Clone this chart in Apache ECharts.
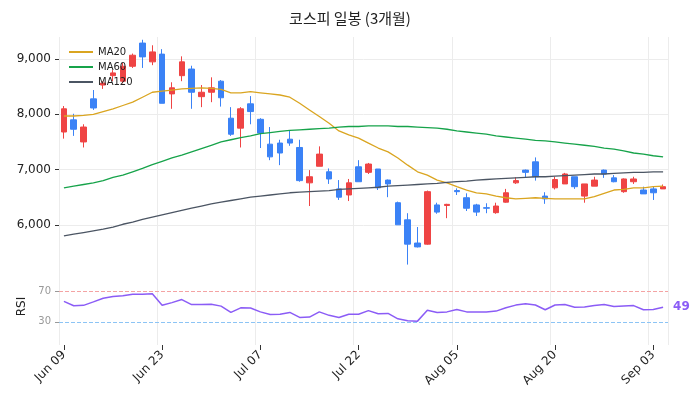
<!DOCTYPE html>
<html><head><meta charset="utf-8">
<script src="https://cdn.jsdelivr.net/npm/echarts@6/dist/echarts.min.js"></script>
<style>html,body{margin:0;padding:0;background:#fff}#c{width:700px;height:410px}</style>
</head><body><div id="c"></div>
<script>
const dates = ["Jun 09","Jun 10","Jun 11","Jun 12","Jun 13","Jun 16","Jun 17","Jun 18","Jun 19","Jun 20",
"Jun 23","Jun 24","Jun 25","Jun 26","Jun 27","Jun 30","Jul 01","Jul 02","Jul 03","Jul 04",
"Jul 07","Jul 08","Jul 09","Jul 10","Jul 11","Jul 14","Jul 15","Jul 16","Jul 17","Jul 21",
"Jul 22","Jul 23","Jul 24","Jul 25","Jul 28","Jul 29","Jul 30","Jul 31","Aug 01","Aug 04",
"Aug 05","Aug 06","Aug 07","Aug 08","Aug 11","Aug 12","Aug 13","Aug 14","Aug 18","Aug 19",
"Aug 20","Aug 21","Aug 22","Aug 25","Aug 26","Aug 27","Aug 28","Aug 29","Sep 01","Sep 02",
"Sep 03","Sep 04"];
const opens  = [8100,7730,7770,8115,8565,8750,8870,9070,9040,9130, 8200,8480,8950,8400,8400,8480,8300,7640,8100,8050,
7660,7230,7300,7480,6800,6870,7280,6830,6500,6760, 6780,7100,6670,6740,6000,5650,5600,6600,6230,6370,
6600,6300,6230,6300,6340,6580,6800,6950,6870,6470, 6820,6920,6690,6740,6810,6920,6780,6830,6830,6560, 6580,6690];
const closes = [7680,7900,7500,8280,8530,8700,8600,8870,9290,8950, 9090,8370,8700,8820,8320,8400,8600,7930,7750,8190,
7910,7460,7480,7550,7400,6760,7060,6960,6650,6540, 7050,6950,7010,6810,6400,6090,5670,5650,6360,6350,
6620,6490,6360,6310,6220,6410,6760,6990,7140,6520, 6670,6740,6870,6520,6700,6990,6850,6600,6780,6630, 6650,6650];
const lows   = [7560,7610,7400,8080,8460,8600,8560,8840,8840,8890, 8200,8100,8600,8100,8130,8220,8140,7610,7400,7820,
7390,7170,7080,7430,6780,6340,7060,6740,6450,6430, 6780,6920,6630,6500,6000,5280,5590,5640,6200,6120,
6540,6250,6160,6210,6200,6400,6740,6860,6800,6380, 6640,6740,6650,6400,6700,6850,6770,6580,6740,6560, 6450,6650];
const highs  = [8150,8010,7820,8440,8600,8800,8930,9100,9350,9250, 9180,8580,9050,8880,8530,8670,8620,8130,8130,8330,
7930,7770,7540,7700,7540,6990,7420,7020,6810,6830, 7170,7120,7010,6820,6420,6210,5960,6620,6400,6380,
6660,6570,6380,6390,6400,6650,6860,7000,7220,6590, 6870,6940,6870,6740,6870,7000,6900,6840,6870,6690, 6690,6730];
const ma20 = [7970,7970,7980,8000,8050,8100,8160,8220,8310,8400, 8420,8440,8460,8470,8480,8470,8450,8390,8390,8410,
8390,8370,8350,8310,8200,8080,7960,7840,7700,7630, 7570,7480,7390,7320,7210,7080,6960,6900,6810,6760,
6690,6630,6580,6560,6520,6490,6470,6480,6490,6480, 6470,6470,6470,6470,6510,6570,6630,6640,6670,6670, 6690,6700];
const ma60 = [6670,6700,6730,6760,6800,6860,6900,6960,7020,7090, 7150,7210,7260,7320,7380,7440,7500,7540,7580,7610,
7650,7670,7690,7710,7720,7730,7740,7750,7770,7780, 7780,7790,7790,7790,7780,7780,7770,7760,7750,7730,
7700,7680,7660,7640,7610,7590,7570,7550,7530,7520, 7500,7480,7460,7440,7420,7390,7370,7340,7300,7280, 7250,7230];
const ma120 = [5800,5830,5860,5890,5920,5960,6010,6050,6100,6140, 6180,6220,6260,6300,6340,6380,6410,6440,6470,6500,
6520,6540,6560,6580,6590,6600,6610,6620,6640,6650, 6660,6670,6680,6700,6710,6720,6730,6740,6750,6770,
6780,6790,6810,6820,6830,6840,6850,6860,6870,6870, 6880,6890,6900,6910,6920,6920,6930,6940,6950,6950, 6960,6960];
const rsi = [56.6,51,51.5,56,60.8,63,64,66,66,66.6, 51.5,55,59,52.5,52.5,53,50.5,42.3,48.3,48,
43,39.5,40,42.3,35.8,36.3,43,38.5,35.8,40, 40,44.6,40.5,41,34,31.5,31,45,42.3,43,
46.2,43,42.8,43,44,48.3,51.8,53.5,52,45.8, 52,52.5,49,49.5,51.2,52.5,50,50.8,51.2,45.8, 46.2,49];
const priceTicks = [6000,7000,8000,9000];
const rsiTicks = [30,70];

const candles = dates.map((d,i)=>[opens[i],closes[i],lows[i],highs[i]]);
const FONT = 'DejaVu Sans';
const chart = echarts.init(document.getElementById('c'));
const gridLine = {show:true, interval:9, lineStyle:{color:'#ececec'}};
chart.setOption({
  animation:false,
  textStyle:{fontFamily:FONT},
  title:{text:'코스피 일봉 (3개월)', left:'center', top:6, textStyle:{fontFamily:'Noto Sans CJK KR', fontSize:15, fontWeight:'normal', color:'#222'}},
  legend:{orient:'vertical', left:64, top:42, itemWidth:24, itemHeight:2, itemGap:5, icon:'rect',
    textStyle:{fontSize:10, color:'#222'}, data:['MA20','MA60','MA120']},
  grid:[{left:59, right:32, top:37, height:232},{left:59, right:32, top:268, height:77}],
  xAxis:[
    {type:'category', gridIndex:0, data:dates, boundaryGap:true, axisLine:{show:false}, axisTick:{show:false}, axisLabel:{show:false}, splitLine:gridLine},
    {type:'category', gridIndex:1, data:dates, boundaryGap:true, axisLine:{show:false},
      axisTick:{show:true, interval:9, alignWithLabel:true, length:5, lineStyle:{color:'#333'}},
      axisLabel:{interval:9, rotate:45, fontSize:12, color:'#222', margin:8}, splitLine:gridLine}
  ],
  yAxis:[
    {type:'value', gridIndex:0, min:5200, max:9400, axisLine:{show:false},
      axisTick:{show:true, length:4, customValues:priceTicks, lineStyle:{color:'#333'}},
      axisLabel:{customValues:priceTicks, fontSize:12, color:'#222', formatter:v=>v.toLocaleString('en-US')},
      splitLine:{show:true, lineStyle:{color:'#ececec'}}},
    {type:'value', gridIndex:1, min:0, max:100, name:'RSI', nameLocation:'middle', nameGap:27, nameRotate:90,
      nameTextStyle:{fontSize:12, color:'#222'}, axisLine:{show:false},
      axisTick:{show:true, length:4, customValues:rsiTicks, lineStyle:{color:'#999'}},
      axisLabel:{customValues:rsiTicks, fontSize:10, color:'#999'}, splitLine:{show:false}}
  ],
  series:[
    {name:'Price', type:'candlestick', xAxisIndex:0, yAxisIndex:0, data:candles, barWidth:6,
      itemStyle:{color:'#3b82f6', color0:'#ef4444', borderColor:'#3b82f6', borderColor0:'#ef4444', borderWidth:1}},
    {name:'MA20', type:'line', xAxisIndex:0, yAxisIndex:0, data:ma20, symbol:'none', lineStyle:{color:'#daa520', width:1.3}, itemStyle:{color:'#daa520'}},
    {name:'MA60', type:'line', xAxisIndex:0, yAxisIndex:0, data:ma60, symbol:'none', lineStyle:{color:'#16a34a', width:1.3}, itemStyle:{color:'#16a34a'}},
    {name:'MA120', type:'line', xAxisIndex:0, yAxisIndex:0, data:ma120, symbol:'none', lineStyle:{color:'#4b5563', width:1.3}, itemStyle:{color:'#4b5563'}},
    {name:'RSI', type:'line', xAxisIndex:1, yAxisIndex:1, data:rsi, symbol:'none', lineStyle:{color:'#8b5cf6', width:1.5},
      endLabel:{show:true, formatter:p=>Math.round(p.value), color:'#8b5cf6', fontWeight:'bold', fontSize:12, distance:10},
      markLine:{silent:true, symbol:'none', label:{show:false},
        data:[{yAxis:70, lineStyle:{color:'#f4a3a3', type:'dashed', width:1}},{yAxis:30, lineStyle:{color:'#8cc4f5', type:'dashed', width:1}}]}}
  ]
});
</script></body></html>
